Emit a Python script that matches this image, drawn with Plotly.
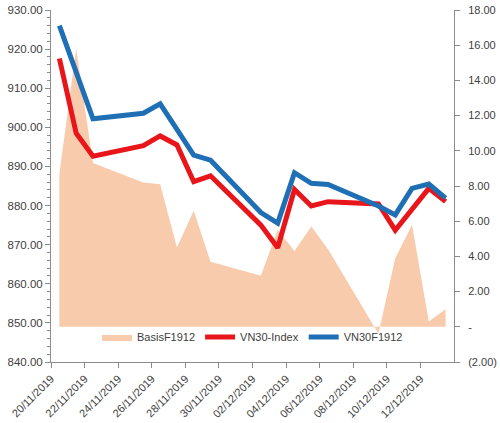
import plotly.graph_objects as go

dates = ['2019-11-20', '2019-11-21', '2019-11-22', '2019-11-25', '2019-11-26', '2019-11-27',
         '2019-11-28', '2019-11-29', '2019-12-02', '2019-12-03', '2019-12-04', '2019-12-05',
         '2019-12-06', '2019-12-09', '2019-12-10', '2019-12-11', '2019-12-12', '2019-12-13']
vn30_index = [917.6, 898.5, 892.6, 895.3, 897.8, 895.5, 886.1, 887.6, 875.0, 869.2,
              884.1, 879.9, 881.0, 880.4, 873.7, 879.1, 884.4, 881.0]
vn30f1912 = [926.0, 914.0, 902.2, 903.6, 906.0, 899.5, 892.9, 891.6, 878.2, 875.5,
             888.4, 885.7, 885.4, 879.9, 877.6, 884.4, 885.5, 881.9]
basis = [8.7, 15.8, 9.3, 8.2, 8.1, 4.5, 6.6, 3.7, 2.9, 5.5,
         4.3, 5.7, 4.4, -0.4, 3.9, 5.8, 0.3, 1.0]

x_ticks = ['2019-11-20', '2019-11-22', '2019-11-24', '2019-11-26', '2019-11-28', '2019-11-30',
           '2019-12-02', '2019-12-04', '2019-12-06', '2019-12-08', '2019-12-10', '2019-12-12']
x_tick_labels = ['20/11/2019', '22/11/2019', '24/11/2019', '26/11/2019', '28/11/2019', '30/11/2019',
                 '02/12/2019', '04/12/2019', '06/12/2019', '08/12/2019', '10/12/2019', '12/12/2019']
left_ticks = [840, 850, 860, 870, 880, 890, 900, 910, 920, 930]
left_tick_labels = ['840.00', '850.00', '860.00', '870.00', '880.00', '890.00', '900.00', '910.00', '920.00', '930.00']
right_ticks = [-2, 0, 2, 4, 6, 8, 10, 12, 14, 16, 18]
right_tick_labels = ['(2.00)', '-', '2.00', '4.00', '6.00', '8.00', '10.00', '12.00', '14.00', '16.00', '18.00']

# points sit in the middle of each day (Excel date axis, between tick marks)
x_mid = [d + ' 12:00' for d in dates]

FONT = 'Liberation Sans'
TXT = '#404040'
AX = '#8c8c8c'

fig = go.Figure()
fig.add_trace(go.Scatter(x=x_mid, y=basis, name='BasisF1912', mode='lines',
                         line=dict(width=0, color='#F8CBAD'), fill='tozeroy',
                         fillcolor='#F8CBAD', yaxis='y'))
fig.add_trace(go.Scatter(x=x_mid, y=vn30_index, name='VN30-Index', mode='lines',
                         line=dict(width=5, color='#E8161B'), yaxis='y2'))
fig.add_trace(go.Scatter(x=x_mid, y=vn30f1912, name='VN30F1912', mode='lines',
                         line=dict(width=5, color='#1F6FB5'), yaxis='y2'))

fig.update_layout(
    template='none',
    width=500, height=423,
    margin=dict(l=51, r=46, t=10, b=61),
    paper_bgcolor='white', plot_bgcolor='white',
    font=dict(family=FONT, size=11, color=TXT),
    showlegend=True,
    legend=dict(orientation='h', x=0.5, xanchor='center', y=0.071, yanchor='middle',
                bgcolor='rgba(0,0,0,0)', font=dict(size=11, color=TXT),
                itemwidth=30, tracegroupgap=0, traceorder='normal'),
    xaxis=dict(type='date', range=['2019-11-20', '2019-12-14'],
               tickmode='array', tickvals=x_ticks, ticktext=x_tick_labels,
               tickangle=-45, ticks='outside', ticklen=5, tickcolor=AX,
               showline=True, linecolor=AX, linewidth=1, showgrid=False,
               zeroline=False, automargin=False, tickfont=dict(size=11, color=TXT)),
    yaxis=dict(side='right', range=[-2, 18], tickmode='array', tickvals=right_ticks,
               ticktext=right_tick_labels, ticks='outside', ticklen=5, tickcolor=AX,
               showline=True, linecolor=AX, linewidth=1, showgrid=False, zeroline=False,
               automargin=False, ticklabelstandoff=6, tickfont=dict(size=11, color=TXT)),
    yaxis2=dict(side='left', overlaying='y', range=[840, 930], tickmode='array',
                tickvals=left_ticks, ticktext=left_tick_labels, ticks='outside', ticklen=5,
                tickcolor=AX, showline=True, linecolor=AX, linewidth=1, showgrid=False,
                zeroline=False, automargin=False,
                minor=dict(ticks='outside', dtick=2, ticklen=3, tickcolor=AX),
                tickfont=dict(size=11.5, color=TXT)),
)

fig.write_html('out.html')
